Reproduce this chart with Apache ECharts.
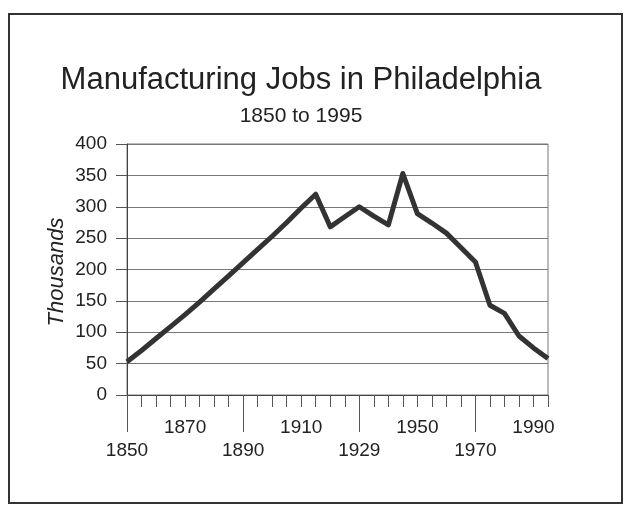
<!DOCTYPE html>
<html>
<head>
<meta charset="utf-8">
<script src="https://cdn.jsdelivr.net/npm/echarts@6/dist/echarts.min.js"></script>
<style>
html,body{margin:0;padding:0;background:#fff;}
#c{width:625px;height:506px;}
</style>
</head>
<body>
<div id="c"></div>
<script>
var years = ['1850','1855','1860','1865','1870','1875','1880','1885','1890','1895','1900','1905','1910','1914','1919','1925','1929','1935','1939','1947','1950','1955','1960','1965','1970','1975','1980','1985','1990','1995'];
var jobs = [53,71,90,109,128,148,169,190,211,232,253,275,298,320,268,284,300,285,271,353,289,274,258,235,212,143,130,94,75,58];
var yTicks = [0,50,100,150,200,250,300,350,400];
var titleText = 'Manufacturing Jobs in Philadelphia';
var subtitleText = '1850 to 1995';
var yName = 'Thousands';

var chart = echarts.init(document.getElementById('c'));
var font = '"Liberation Sans", Arial, sans-serif';
chart.setOption({
  backgroundColor: '#fff',
  animation: false,
  graphic: [
    {type: 'rect', shape: {x: 9, y: 14, width: 613, height: 489},
     style: {fill: 'none', stroke: '#333', lineWidth: 2}, silent: true},
    {type: 'text', x: 301, y: 80,
     style: {text: titleText, fontFamily: font, fontSize: 31, fill: '#222',
             align: 'center', verticalAlign: 'middle'}},
    {type: 'text', x: 301, y: 116,
     style: {text: subtitleText, fontFamily: font, fontSize: 21, fill: '#222',
             align: 'center', verticalAlign: 'middle'}},
    {type: 'text', x: 57, y: 272, rotation: Math.PI / 2,
     style: {text: yName, fontFamily: font, fontSize: 22, fontStyle: 'italic',
             fill: '#222', align: 'center', verticalAlign: 'middle'}}
  ],
  grid: {left: 127, right: 77, top: 144, bottom: 111, show: true,
         borderColor: '#777', borderWidth: 1, containLabel: false},
  xAxis: [
    {type: 'category', data: years, boundaryGap: false, position: 'bottom',
     axisLine: {show: true, lineStyle: {color: '#444', width: 1}},
     axisTick: {show: true, interval: 0, length: 12, lineStyle: {color: '#555'}},
     axisLabel: {interval: function (i) { return i % 8 === 4; }, margin: 23,
                 fontFamily: font, fontSize: 19, color: '#222'},
     splitLine: {show: false}},
    {type: 'category', data: years, boundaryGap: false, position: 'bottom',
     axisLine: {show: false},
     axisTick: {show: true, interval: function (i) { return i % 8 === 0; }, length: 37,
                lineStyle: {color: '#555'}},
     axisLabel: {interval: function (i) { return i % 8 === 0; }, margin: 46,
                 fontFamily: font, fontSize: 19, color: '#222'},
     splitLine: {show: false}}
  ],
  yAxis: {
    type: 'value', min: yTicks[0], max: yTicks[yTicks.length - 1], interval: 50,
    axisLine: {show: true, lineStyle: {color: '#444'}},
    axisTick: {show: true, length: 11, lineStyle: {color: '#555'}},
    axisLabel: {margin: 20, fontFamily: font, fontSize: 19, color: '#222'},
    splitLine: {show: true, lineStyle: {color: '#777', width: 1}}
  },
  series: [{
    type: 'line', xAxisIndex: 0, data: jobs, symbol: 'none', smooth: false,
    lineStyle: {color: '#333', width: 5, join: 'round'}
  }]
});
</script>
</body>
</html>
